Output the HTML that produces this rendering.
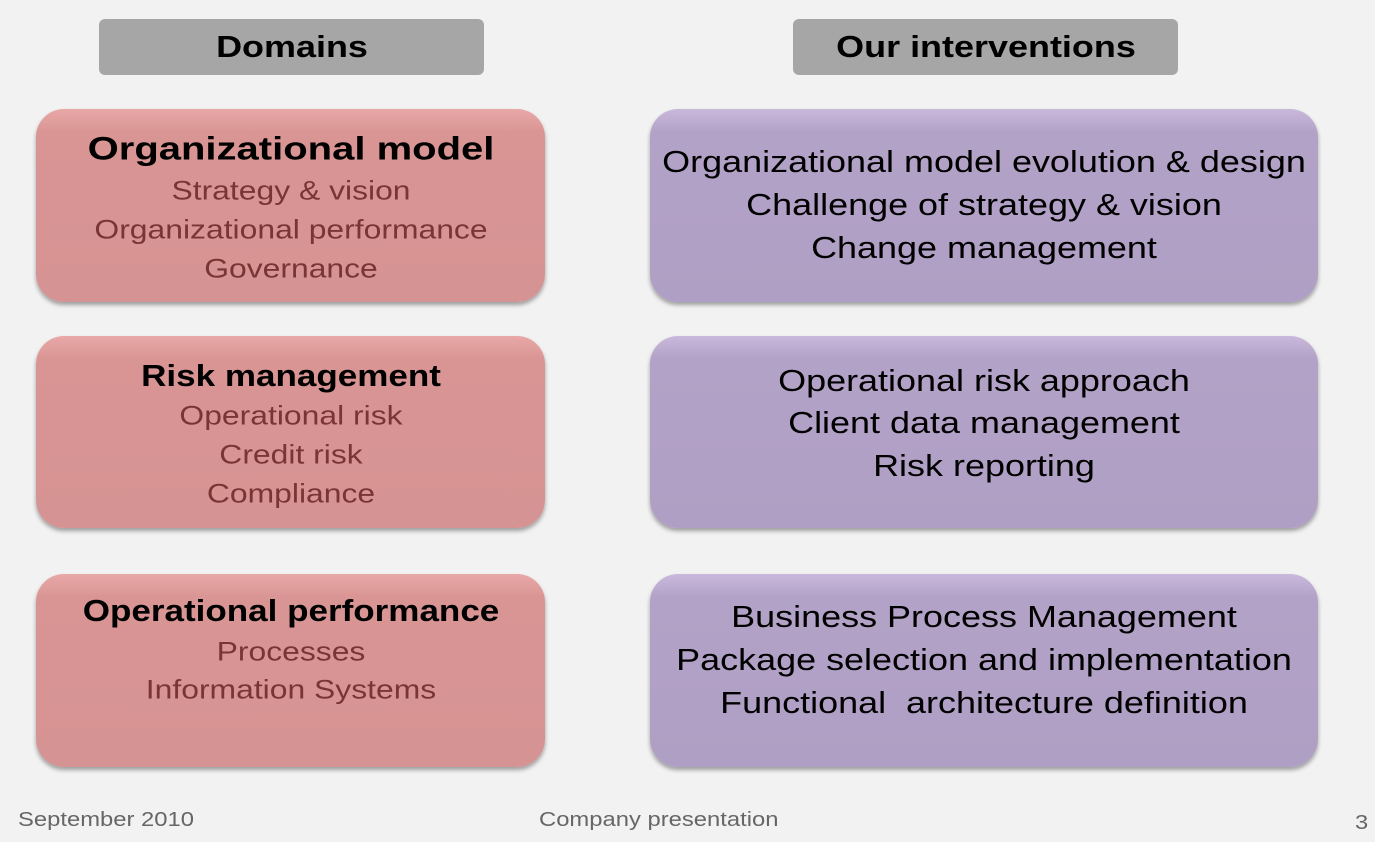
<!DOCTYPE html>
<html><head><style>
body{margin:0;width:1375px;height:842px;background:#f2f2f2;position:relative;overflow:hidden;font-family:"Liberation Sans",Arial,sans-serif}
.h{position:absolute;top:19px;height:56px;width:385px;background:#a6a6a6;border-radius:6px;font-weight:bold;font-size:31px;line-height:56px;color:#000}
.h span{position:absolute;left:50%;top:0;white-space:nowrap;transform:translateX(-50%) scaleX(1.16)}
.b{position:absolute;border-radius:28px;box-shadow:0 3px 4px rgba(0,0,0,.35)}
.p{left:36px;width:509px;background:linear-gradient(#e8a8a7 0%,#d99594 12%,#d69393 100%)}
.v{left:650px;width:668px;background:linear-gradient(#c9b9dc 0%,#b3a2c7 12%,#b09fc4 100%)}
.t{position:absolute;left:50%;text-align:center;white-space:nowrap}
.ti{font-weight:bold;font-size:32px;color:#000;transform:translate(-50%,-50%) scaleX(1.25)}
.ti2{font-weight:bold;font-size:31px;color:#000;transform:translate(-50%,-50%) scaleX(1.13)}
.s{font-size:27px;color:#7b3434;transform:translate(-50%,-50%) scaleX(1.18)}
.r{font-size:31px;color:#000;transform:translate(-50%,-50%) scaleX(1.16)}
.f{position:absolute;font-size:20px;color:#666;top:809px;transform-origin:0 0;transform:scaleX(1.19);white-space:nowrap}
</style></head><body>
<div class="h" style="left:99px"><span>Domains</span></div>
<div class="h" style="left:793px"><span>Our interventions</span></div>

<div class="b p" style="top:109px;height:193px">
<div class="t ti" style="top:40px">Organizational model</div>
<div class="t s" style="top:82px">Strategy &amp; vision</div>
<div class="t s" style="top:121px">Organizational performance</div>
<div class="t s" style="top:160px">Governance</div>
</div>
<div class="b p" style="top:336px;height:192px">
<div class="t ti2" style="top:40px">Risk management</div>
<div class="t s" style="top:80px">Operational risk</div>
<div class="t s" style="top:119px">Credit risk</div>
<div class="t s" style="top:158px">Compliance</div>
</div>
<div class="b p" style="top:574px;height:193px">
<div class="t ti2" style="top:37px">Operational performance</div>
<div class="t s" style="top:78px">Processes</div>
<div class="t s" style="top:116px">Information Systems</div>
</div>

<div class="b v" style="top:109px;height:193px">
<div class="t r" style="top:53px">Organizational model evolution &amp; design</div>
<div class="t r" style="top:96px">Challenge of strategy &amp; vision</div>
<div class="t r" style="top:139px">Change management</div>
</div>
<div class="b v" style="top:336px;height:192px">
<div class="t r" style="top:45px">Operational risk approach</div>
<div class="t r" style="top:87px">Client data management</div>
<div class="t r" style="top:130px">Risk reporting</div>
</div>
<div class="b v" style="top:574px;height:193px">
<div class="t r" style="top:43px">Business Process Management</div>
<div class="t r" style="top:86px">Package selection and implementation</div>
<div class="t r" style="top:129px">Functional&nbsp; architecture definition</div>
</div>

<div class="f" style="left:18px">September 2010</div>
<div class="f" style="left:539px">Company presentation</div>
<div class="f" style="left:1355px;top:812px">3</div>
</body></html>
